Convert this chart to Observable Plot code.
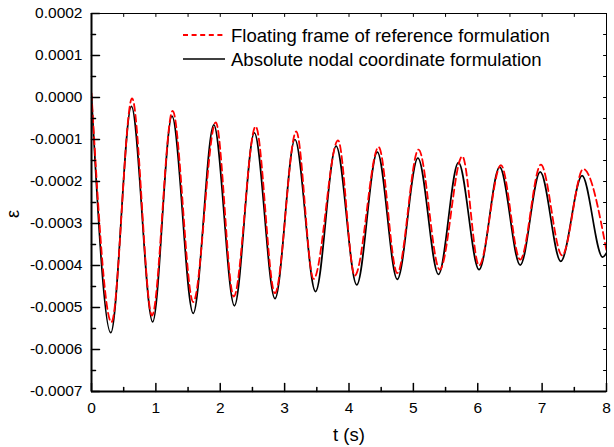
<!DOCTYPE html>
<html><head><meta charset="utf-8">
<script src="https://cdn.jsdelivr.net/npm/d3@7"></script>
<script src="https://cdn.jsdelivr.net/npm/@observablehq/plot@0.6"></script>
<style>
body{margin:0;background:#fff}
#chart{width:614px;height:447px}
</style>
</head><body><div id="chart"></div>
<script>
// ---- data ----
const seriesNames = ["Floating frame of reference formulation", "Absolute nodal coordinate formulation"];
const xTitle = "t (s)";
const yTitle = "ε";

// Absolute nodal coordinate formulation (black, solid): extremes of the oscillation
const tANCF = [0, 0.30, 0.62, 0.95, 1.25, 1.58, 1.90, 2.22, 2.53, 2.85, 3.16, 3.48, 3.80, 4.12, 4.44, 4.75, 5.07, 5.39, 5.70, 6.02, 6.34, 6.66, 6.97, 7.29, 7.62, 7.94, 8.0];
const eANCF = [0.000003, -0.000560, -0.000021, -0.000534, -0.0000445, -0.000514, -0.000065, -0.000496, -0.000084, -0.000479, -0.000100, -0.000462, -0.000116, -0.000446, -0.000130, -0.000433, -0.000144, -0.000421, -0.000155, -0.000410, -0.000166, -0.000399, -0.000177, -0.000390, -0.000186, -0.000380, -0.000370];

// Floating frame of reference formulation (red, dashed)
const tFFR = [0, 0.31, 0.63, 0.94, 1.26, 1.58, 1.93, 2.21, 2.55, 2.85, 3.18, 3.45, 3.83, 4.09, 4.46, 4.75, 5.08, 5.41, 5.76, 6.02, 6.36, 6.66, 6.98, 7.31, 7.64, 8.0];
const eFFR = [0.000010, -0.000535, -0.000002, -0.000519, -0.000032, -0.000487, -0.000059, -0.000474, -0.000069, -0.000466, -0.000081, -0.000432, -0.000102, -0.000424, -0.000118, -0.000418, -0.000124, -0.000410, -0.000140, -0.000400, -0.000161, -0.000386, -0.000160, -0.000376, -0.000170, -0.000365];

const xDomain = [0, 8];
const yDomain = [-0.0007, 0.0002];
const xMajor = [0, 1, 2, 3, 4, 5, 6, 7, 8];
const xMinor = [0.5, 1.5, 2.5, 3.5, 4.5, 5.5, 6.5, 7.5];
const yMajor = [-0.0007, -0.0006, -0.0005, -0.0004, -0.0003, -0.0002, -0.0001, 0, 0.0001, 0.0002];
const yMinor = [-0.00065, -0.00055, -0.00045, -0.00035, -0.00025, -0.00015, -0.00005, 0.00005, 0.00015];

// ---- build ----
const ancf = tANCF.map((t, i) => ({t, e: eANCF[i]}));
const ffr = tFFR.map((t, i) => ({t, e: eFFR[i]}));

const tickShape = {draw(ctx, l) { ctx.moveTo(0, 0); ctx.lineTo(0, -l); }};
const ticks = (vals, axis, anchor, rotate, len, sw) =>
  Plot.vector(vals, {
    [axis]: d => d, frameAnchor: anchor, rotate, length: len, anchor: "start",
    shape: tickShape, stroke: "black", strokeWidth: sw
  });

const FONT = "'Liberation Sans', Arial, Helvetica, sans-serif";

const svg = Plot.plot({
  width: 614, height: 447,
  marginLeft: 91, marginRight: 8, marginTop: 13, marginBottom: 56,
  style: {fontFamily: FONT, fontSize: "15.5px", color: "black", background: "white"},
  x: {domain: xDomain, label: null},
  y: {domain: yDomain, label: null},
  marks: [
    Plot.line(ancf, {x: "t", y: "e", curve: "monotone-x", stroke: "black", strokeWidth: 1.7, clip: true}),
    Plot.line(ffr, {x: "t", y: "e", curve: "monotone-x", stroke: "#ff0000", strokeWidth: 1.8, strokeDasharray: "7,4", clip: true}),
    Plot.frame({stroke: "black", strokeWidth: 1}),
    Plot.ruleX([xDomain[0]], {stroke: "black", strokeWidth: 2}),
    Plot.ruleY([yDomain[0]], {stroke: "black", strokeWidth: 2}),
    ticks(xMajor, "x", "bottom", 0, 8, 1.5),
    ticks(xMinor, "x", "bottom", 0, 4, 1.5),
    ticks(yMajor, "y", "left", 90, 8, 1.5),
    ticks(yMinor, "y", "left", 90, 4, 1.5),
    ticks(xMajor, "x", "top", 180, 3, 1),
    ticks(xMinor, "x", "top", 180, 3, 1),
    ticks(yMajor, "y", "right", 270, 3, 1),
    ticks(yMinor, "y", "right", 270, 3, 1),
    Plot.axisX({ticks: xMajor, tickSize: 0, tickPadding: 10, tickFormat: d => String(d), label: null}),
    Plot.axisY({ticks: yMajor, tickSize: 0, tickPadding: 9, tickFormat: d => d.toFixed(4), label: null})
  ]
});

document.getElementById("chart").appendChild(svg);

// axis titles and legend
const s = d3.select(svg);
s.append("text").attr("x", 349).attr("y", 441).attr("text-anchor", "middle")
  .attr("font-family", FONT).attr("font-size", 18.5).attr("fill", "black").text(xTitle);
s.append("text").attr("transform", "translate(19,214) rotate(-90)").attr("text-anchor", "middle")
  .attr("font-family", FONT).attr("font-size", 18).attr("fill", "black").text(yTitle);

const legend = s.append("g").attr("font-family", FONT).attr("font-size", 18.5)
  .attr("fill", "black").attr("text-anchor", "start");
const legendStyles = [
  {stroke: "#ff0000", dash: "5,3.6", width: 1.8},
  {stroke: "black", dash: null, width: 1.6}
];
seriesNames.forEach((name, i) => {
  const y = 35 + i * 24;
  legend.append("line").attr("x1", 183).attr("x2", 225).attr("y1", y).attr("y2", y)
    .attr("stroke", legendStyles[i].stroke).attr("stroke-width", legendStyles[i].width)
    .attr("stroke-dasharray", legendStyles[i].dash);
  legend.append("text").attr("x", 231).attr("y", y + 6.5).attr("text-anchor", "start").text(name);
});
</script>
</body></html>
